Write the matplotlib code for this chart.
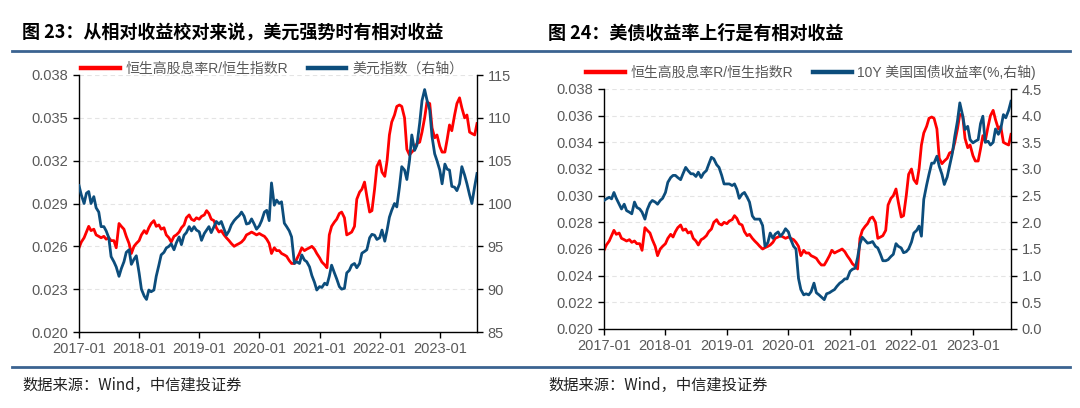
import matplotlib
matplotlib.use('Agg')
import matplotlib.pyplot as plt
import matplotlib.dates as mdates
import pandas as pd
from matplotlib.lines import Line2D

plt.rcParams['font.family'] = ['Liberation Sans', 'Noto Sans CJK SC']

# semi-monthly observations, 2017-01 .. 2023-08
dates = pd.date_range('2017-01-01', '2023-08-15', freq='SMS')

# 恒生高股息率R / 恒生指数R
hs_ratio = [
    0.0259, 0.0263, 0.0266, 0.0270, 0.0274, 0.0271, 0.0272, 0.0268, 0.0267, 0.0266, 0.0267, 0.0265,
    0.0266, 0.0264, 0.0264, 0.0259, 0.0276, 0.0274, 0.0272, 0.0267, 0.0262, 0.0255, 0.0260, 0.0262,  # 2017
    0.0264, 0.0268, 0.0271, 0.0269, 0.0273, 0.0276, 0.0278, 0.0274, 0.0275, 0.0272, 0.0273, 0.0268,
    0.0266, 0.0263, 0.0267, 0.0268, 0.0270, 0.0273, 0.0275, 0.0280, 0.0282, 0.0279, 0.0278, 0.0280,  # 2018
    0.0279, 0.0281, 0.0282, 0.0285, 0.0283, 0.0279, 0.0278, 0.0273, 0.0270, 0.0271, 0.0268, 0.0266,
    0.0264, 0.0262, 0.0260, 0.0261, 0.0262, 0.0263, 0.0265, 0.0268, 0.0269, 0.0270, 0.0269, 0.0268,  # 2019
    0.0269, 0.0268, 0.0267, 0.0265, 0.0262, 0.0255, 0.0259, 0.0257, 0.0257, 0.0255, 0.0254, 0.0253,
    0.0250, 0.0248, 0.0248, 0.0251, 0.0255, 0.0259, 0.0257, 0.0258, 0.0259, 0.0260, 0.0258, 0.0255,  # 2020
    0.0252, 0.0249, 0.0247, 0.0245, 0.0268, 0.0274, 0.0277, 0.0279, 0.0283, 0.0284, 0.0280, 0.0268,
    0.0269, 0.0270, 0.0274, 0.0293, 0.0298, 0.0300, 0.0305, 0.0295, 0.0284, 0.0285, 0.0300, 0.0316,  # 2021
    0.0320, 0.0312, 0.0309, 0.0320, 0.0338, 0.0347, 0.0352, 0.0358, 0.0359, 0.0358, 0.0350, 0.0328,
    0.0324, 0.0326, 0.0328, 0.0332, 0.0333, 0.0340, 0.0350, 0.0361, 0.0360, 0.0343, 0.0336, 0.0338,  # 2022
    0.0330, 0.0326, 0.0326, 0.0335, 0.0345, 0.0341, 0.0352, 0.0360, 0.0364, 0.0357, 0.0350, 0.0352,
    0.0340, 0.0339, 0.0338, 0.0346,  # 2023
]

# 美元指数
dxy = [
    102.1, 101.0, 100.0, 101.2, 101.4, 100.0, 100.8, 99.5, 99.0, 97.3, 97.3, 96.8,
    96.0, 93.8, 93.2, 92.6, 91.5, 92.4, 93.2, 94.3, 94.6, 92.9, 93.5, 93.9,
    91.9, 90.0, 89.2, 88.8, 89.9, 89.7, 89.9, 91.5, 92.8, 94.0, 94.3, 94.8,
    95.0, 95.3, 94.6, 95.4, 96.1, 95.2, 96.3, 96.6, 97.3, 96.8, 97.3, 96.9,
    96.7, 95.7, 96.5, 96.9, 97.3, 96.6, 97.3, 97.9, 97.6, 97.9, 97.0, 96.3,
    96.8, 97.5, 98.0, 98.3, 98.6, 99.0, 98.5, 97.6, 97.7, 98.2, 97.6, 97.0,
    97.4, 98.0, 99.0, 99.2, 98.0, 102.4, 99.8, 100.4, 100.0, 100.2, 97.7, 97.3,
    96.8, 96.1, 93.0, 93.2, 93.0, 94.0, 93.4, 93.2, 92.6, 91.6, 90.8, 89.9,
    90.3, 90.2, 90.7, 90.5, 91.5, 92.8, 91.9, 91.2, 90.3, 90.0, 90.1, 91.9,
    92.2, 92.8, 93.0, 92.5, 93.0, 94.2, 94.4, 94.6, 96.0, 96.4, 96.3, 95.8,
    96.0, 96.9, 95.6, 96.9, 98.4, 99.2, 100.0, 99.6, 101.9, 104.3, 103.9, 102.8,
    105.0, 108.0, 106.2, 106.8, 109.4, 112.0, 113.3, 112.1, 110.9, 107.8, 105.8, 105.0,
    103.9, 102.3, 104.6, 104.0, 103.9, 102.0, 101.9, 101.5, 102.3, 104.3, 103.3, 102.3,
    101.0, 100.0, 102.0, 103.5,
]

# 10Y 美国国债收益率 (%)
ust10y = [
    2.41, 2.44, 2.47, 2.44, 2.56, 2.45, 2.34, 2.25, 2.34, 2.22, 2.19, 2.16,
    2.38, 2.28, 2.25, 2.19, 2.06, 2.24, 2.36, 2.41, 2.38, 2.34, 2.41, 2.45,
    2.56, 2.75, 2.84, 2.88, 2.88, 2.84, 2.80, 2.91, 3.03, 2.97, 2.91, 2.91,
    2.86, 2.94, 2.84, 2.92, 2.97, 3.09, 3.22, 3.19, 3.08, 3.03, 2.88, 2.72,
    2.72, 2.72, 2.69, 2.72, 2.62, 2.45, 2.53, 2.56, 2.47, 2.38, 2.12, 2.06,
    2.06, 2.06, 1.94, 1.55, 1.62, 1.80, 1.70, 1.78, 1.82, 1.74, 1.80, 1.88,
    1.82, 1.68, 1.55, 1.50, 0.95, 0.74, 0.64, 0.66, 0.64, 0.70, 0.86, 0.68,
    0.64, 0.60, 0.55, 0.66, 0.68, 0.71, 0.74, 0.80, 0.86, 0.89, 0.94, 0.94,
    1.08, 1.12, 1.14, 1.34, 1.60, 1.72, 1.66, 1.61, 1.62, 1.64, 1.55, 1.52,
    1.40, 1.28, 1.28, 1.30, 1.36, 1.40, 1.60, 1.55, 1.52, 1.43, 1.45, 1.50,
    1.63, 1.80, 1.85, 1.93, 1.74, 2.43, 2.70, 2.90, 3.11, 3.11, 3.24, 3.05,
    2.90, 2.71, 2.85, 3.05, 3.30, 3.61, 3.90, 4.24, 4.00, 3.74, 3.80, 3.55,
    3.49, 3.52, 3.55, 3.85, 3.99, 3.50, 3.52, 3.45, 3.50, 3.75, 3.65, 3.75,
    4.02, 3.96, 4.10, 4.27,
]

years = [pd.Timestamp(f'{y}-01-01') for y in range(2017, 2024)]
left_ticks_a = [0.020, 0.023, 0.026, 0.029, 0.032, 0.035, 0.038]
right_ticks_a = [85, 90, 95, 100, 105, 110, 115]
left_ticks_b = [0.020, 0.022, 0.024, 0.026, 0.028, 0.030, 0.032, 0.034, 0.036, 0.038]
right_ticks_b = [0.0, 0.5, 1.0, 1.5, 2.0, 2.5, 3.0, 3.5, 4.0, 4.5]

RED = '#ff0000'
BLUE = '#0c4d7c'
GRAY = '#595959'
W, H = 1080, 408

fig = plt.figure(figsize=(10.8, 4.08), dpi=100)


def panel(rect, right_series, lticks, rticks, lfmt, rfmt, labels, leg_xy):
    ax = fig.add_axes(rect)
    ax2 = ax.twinx()
    ax.plot(dates, hs_ratio, color=RED, lw=2.0)
    ax2.plot(dates, right_series, color=BLUE, lw=2.0)
    ax.set_xlim(dates[0], dates[-1])
    ax.set_ylim(lticks[0], lticks[-1])
    ax2.set_ylim(rticks[0], rticks[-1])
    ax.set_yticks(lticks)
    ax2.set_yticks(rticks)
    ax.yaxis.set_major_formatter(plt.FormatStrFormatter(lfmt))
    ax2.yaxis.set_major_formatter(plt.FormatStrFormatter(rfmt))
    ax.set_xticks(years)
    ax.xaxis.set_major_formatter(mdates.DateFormatter('%Y-%m'))
    ax.yaxis.grid(True, color='#e4e4e4', ls=(0, (4, 3)), lw=0.8)
    ax.set_axisbelow(True)
    for a in (ax, ax2):
        a.spines['top'].set_visible(False)
        for s in a.spines.values():
            s.set_linewidth(1.0)
        a.tick_params(direction='out', length=4, width=1.0, color='black',
                      labelcolor=GRAY, labelsize=10.5)
    ax.spines['right'].set_visible(False)
    ax2.spines['left'].set_visible(False)
    ax2.spines['bottom'].set_visible(False)
    handles = [Line2D([], [], color=RED, lw=3.2), Line2D([], [], color=BLUE, lw=3.2)]
    fig.legend(handles, labels, loc='center', bbox_to_anchor=leg_xy, ncol=2,
               frameon=False, fontsize=10, labelcolor=GRAY, handlelength=2.8,
               handletextpad=0.4, columnspacing=1.4)


panel([79 / W, 1 - 332 / H, 398 / W, 257 / H], dxy, left_ticks_a, right_ticks_a,
      '%.3f', '%d', ['恒生高股息率R/恒生指数R', '美元指数（右轴）'],
      (272 / W, 1 - 69 / H))
panel([604 / W, 1 - 329 / H, 407 / W, 240 / H], ust10y, left_ticks_b, right_ticks_b,
      '%.3f', '%.1f', ['恒生高股息率R/恒生指数R', '10Y 美国国债收益率(%,右轴)'],
      (811 / W, 1 - 72 / H))

# titles, rules and source notes
for x0, title in [(22, '图 23：从相对收益校对来说，美元强势时有相对收益'),
                  (548, '图 24：美债收益率上行是有相对收益')]:
    fig.text(x0 / W, 1 - 33 / H, title, va='center', ha='left', fontsize=13,
             fontweight='bold', family=['Noto Sans CJK SC', 'DejaVu Sans'], color='black')
    fig.text(x0 / W, 1 - 385 / H, '数据来源：Wind，中信建投证券', va='center', ha='left',
             fontsize=11, style='italic', family=['Noto Sans CJK SC', 'DejaVu Sans'],
             color='#222222')

for yy in (51, 367):
    fig.add_artist(Line2D([12 / W, 1070 / W], [1 - yy / H, 1 - yy / H], color='#3b6391',
                          lw=2.0, transform=fig.transFigure))

fig.savefig('out.png', dpi=100)
